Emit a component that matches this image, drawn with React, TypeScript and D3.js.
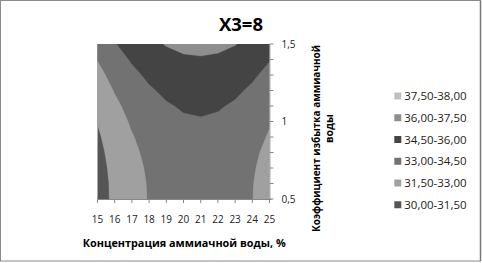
import React from 'react';
import * as d3 from 'd3';

// Categories (X axis): concentration of ammonia water, %
const concentration = [15, 16, 17, 18, 19, 20, 21, 22, 23, 24, 25];
// Series (depth axis): coefficient of ammonia water excess
const coefficient = [0.5, 0.6, 0.7, 0.8, 0.9, 1.0, 1.1, 1.2, 1.3, 1.4, 1.5];

// Surface values, one row per coefficient value
const z050 = [30.90, 31.78, 32.50, 33.06, 33.45, 33.69, 33.76, 33.67, 33.42, 33.01, 32.43];
const z060 = [30.92, 31.80, 32.52, 33.08, 33.47, 33.71, 33.78, 33.69, 33.44, 33.03, 32.45];
const z070 = [31.00, 31.88, 32.60, 33.16, 33.55, 33.79, 33.86, 33.77, 33.52, 33.11, 32.53];
const z080 = [31.13, 32.01, 32.73, 33.29, 33.68, 33.92, 33.99, 33.90, 33.65, 33.24, 32.66];
const z090 = [31.31, 32.19, 32.91, 33.47, 33.86, 34.10, 34.17, 34.08, 33.83, 33.42, 32.88];
const z100 = [31.55, 32.43, 33.15, 33.71, 34.10, 34.34, 34.41, 34.32, 34.07, 33.66, 33.08];
const z110 = [31.83, 32.71, 33.43, 33.99, 34.38, 34.62, 34.69, 34.60, 34.35, 33.94, 33.36];
const z120 = [32.18, 33.06, 33.78, 34.34, 34.73, 34.97, 35.04, 34.95, 34.70, 34.29, 33.71];
const z130 = [32.58, 33.46, 34.18, 34.74, 35.13, 35.37, 35.44, 35.35, 35.10, 34.69, 34.11];
const z140 = [33.03, 33.91, 34.63, 35.19, 35.58, 35.82, 35.89, 35.80, 35.55, 35.14, 34.56];
const z150 = [33.53, 34.41, 35.13, 35.69, 36.08, 36.32, 36.39, 36.30, 36.05, 35.64, 35.06];
const rows = [z050, z060, z070, z080, z090, z100, z110, z120, z130, z140, z150];

// Bands (ascending)
const thresholds = [30, 31.5, 33, 34.5, 36, 37.5];
const bandLabels = ['30,00-31,50', '31,50-33,00', '33,00-34,50', '34,50-36,00', '36,00-37,50', '37,50-38,00'];
const bandColors = ['#555555', '#a0a0a0', '#727272', '#444444', '#8e8e8e', '#c0c0c0'];

const xTickLabels = ['15', '16', '17', '18', '19', '20', '21', '22', '23', '24', '25'];
const yMinorTicks = [0.5, 0.6, 0.7, 0.8, 0.9, 1.0, 1.1, 1.2, 1.3, 1.4, 1.5];
const yLabelValues = [0.5, 1, 1.5];
const yLabelTexts = ['0,5', '1', '1,5'];

const W = 482;
const H = 263;
const FONT = "'Open Sans', 'Noto Sans', sans-serif";

export default function App() {
  const left = 97.5, right = 269.5, top = 44, bottom = 199;
  const x = d3.scaleLinear().domain([15, 25]).range([left, right]);
  const y = d3.scaleLinear().domain([0.5, 1.5]).range([bottom, top]);

  const n = concentration.length;
  const m = coefficient.length;
  const values: number[] = [];
  for (let j = 0; j < m; j++) for (let i = 0; i < n; i++) values.push(rows[j][i]);

  const gx = d3.scaleLinear().domain([0.5, n - 0.5]).range([x(concentration[0]), x(concentration[n - 1])]);
  const gy = d3.scaleLinear().domain([0.5, m - 0.5]).range([y(coefficient[0]), y(coefficient[m - 1])]);
  const proj = d3.geoTransform({
    point(px: number, py: number) {
      (this as any).stream.point(gx(px), gy(py));
    },
  });
  const path = d3.geoPath(proj);
  const contours = d3.contours().size([n, m]).thresholds(thresholds)(values);

  const legendRows = bandLabels.map((l, i) => ({ label: l, color: bandColors[i] })).reverse();

  return (
    <svg width={W} height={H} style={{ position: 'fixed', left: 0, top: 0, background: '#fff' }}>
      <rect x={0.5} y={0.5} width={480} height={260.5} fill="#fff" stroke="#8a8a8a" />
      <line x1={480.5} y1={0.5} x2={480.5} y2={261} stroke="#777" strokeWidth={1.5} />
      <defs>
        <clipPath id="plotClip">
          <rect x={left} y={top} width={right - left} height={bottom - top} />
        </clipPath>
      </defs>
      <g clipPath="url(#plotClip)">
        {contours.map((c, i) => (
          <path key={i} d={path(c as any) || ''} fill={bandColors[i]} stroke={bandColors[i]} strokeWidth={0.3} />
        ))}
      </g>
      {/* X axis */}
      <line x1={left} x2={right + 2} y1={bottom + 0.5} y2={bottom + 0.5} stroke="#868686" />
      {concentration.map((c) => (
        <line key={c} x1={x(c)} x2={x(c)} y1={bottom} y2={bottom + 4} stroke="#868686" />
      ))}
      {concentration.map((c, i) => (
        <text key={c} x={x(c)} y={223} textAnchor="middle" fontFamily={FONT} fontSize={10} fill="#222">
          {xTickLabels[i]}
        </text>
      ))}
      {/* Right (depth) axis */}
      <line x1={right + 0.5} x2={right + 0.5} y1={top} y2={bottom} stroke="#b0b0b0" />
      {yMinorTicks.map((v) => (
        <line key={v} x1={right} x2={right + 4} y1={y(v)} y2={y(v)} stroke="#868686" />
      ))}
      {yLabelValues.map((v, i) => (
        <text key={v} x={281.5} y={y(v) + 3.5} fontFamily={FONT} fontSize={10} fill="#222">
          {yLabelTexts[i]}
        </text>
      ))}
      {/* Title */}
      <text x={241} y={31} textAnchor="middle" fontFamily={FONT} fontWeight="bold" fontSize={18.5} fill="#000">
        X3=8
      </text>
      {/* X axis title */}
      <text x={82.7} y={247.3} fontFamily={FONT} fontWeight="bold" fontSize={11} fill="#000"
        textLength={203} lengthAdjust="spacingAndGlyphs">
        Концентрация аммиачной воды, %
      </text>
      {/* Y axis title */}
      <text transform={`translate(319.5, ${138.5}) rotate(-90)`} textAnchor="middle" fontFamily={FONT}
        fontWeight="bold" fontSize={10.5} fill="#000" textLength={187} lengthAdjust="spacingAndGlyphs">
        Коэффициент избытка аммиачной
      </text>
      <text transform={`translate(333, ${128.5}) rotate(-90)`} textAnchor="middle" fontFamily={FONT}
        fontWeight="bold" fontSize={10.5} fill="#000">
        воды
      </text>
      {/* Legend */}
      {legendRows.map((r, i) => {
        const cy = 96 + i * 21.75;
        return (
          <g key={r.label}>
            <rect x={394.3} y={cy - 3.5} width={7} height={7} fill={r.color} />
            <text x={404.3} y={cy + 4} fontFamily={FONT} fontSize={11.5} fill="#222">
              {r.label}
            </text>
          </g>
        );
      })}
    </svg>
  );
}
